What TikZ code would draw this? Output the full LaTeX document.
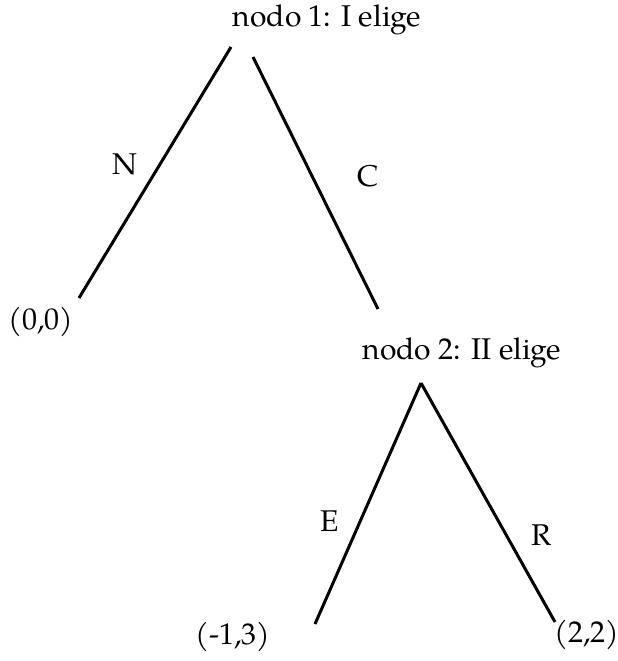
\documentclass[tikz,border=0pt]{standalone}
\usepackage{fontspec}
\setmainfont{TeX Gyre Pagella}
\begin{document}
\begin{tikzpicture}[x=1pt,y=-1pt,
  lbl/.style={inner sep=0pt,font=\fontsize{30}{36}\selectfont},
  edge/.style={line width=3pt,line cap=butt}]
\useasboundingbox (0,0) rectangle (618,661);
\node[lbl] (n1) at (327,20) {nodo 1: I elige};
\node[lbl] (n2) at (462,353) {nodo 2: II elige};
\coordinate (a1) at (231,47);
\coordinate (b1) at (253,57);
\coordinate (l1) at (79,298);
\coordinate (r1) at (378,309);
\coordinate (a2) at (421,383);
\coordinate (l2) at (315,624);
\coordinate (r2) at (555,622);
\draw[edge] (a1) -- (l1);
\draw[edge] (b1) -- (r1);
\draw[edge] (a2) -- (l2);
\draw[edge] (a2) -- (r2);
\node[lbl] (N) at (125,164) {N};
\node[lbl] (C) at (368,176) {C};
\node[lbl] (E) at (330,521) {E};
\node[lbl] (R) at (542,535) {R};
\node[lbl] (p00) at (41,322) {(0,0)};
\node[lbl] (p13) at (233,637) {(-1,3)};
\node[lbl] (p22) at (587,635) {(2,2)};
\end{tikzpicture}
\end{document}
